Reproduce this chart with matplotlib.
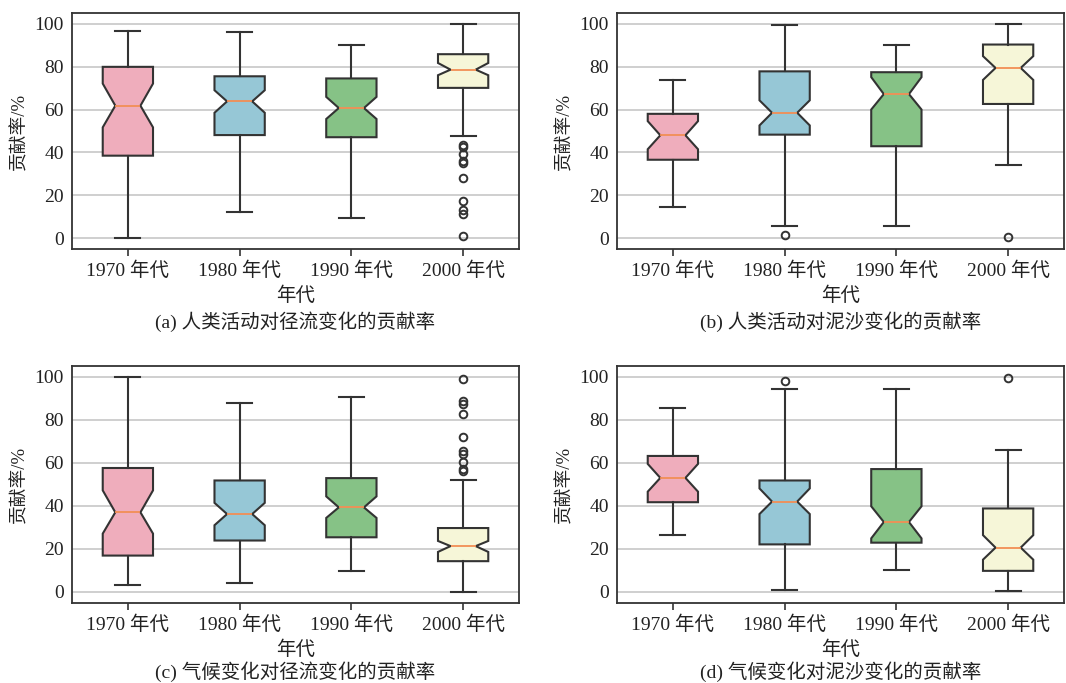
import matplotlib
matplotlib.use("Agg")
import matplotlib.pyplot as plt

plt.rcParams['font.family'] = ['Liberation Serif', 'Noto Sans CJK SC']
plt.rcParams['axes.unicode_minus'] = False

decades = ["1970 年代", "1980 年代", "1990 年代", "2000 年代"]
colors = ["#EFADBC", "#96C7D6", "#86C286", "#F6F6D8"]
captions = ["(a) 人类活动对径流变化的贡献率", "(b) 人类活动对泥沙变化的贡献率",
            "(c) 气候变化对径流变化的贡献率", "(d) 气候变化对泥沙变化的贡献率"]

# each panel: per decade [whislo, q1, cilo, med, cihi, q3, whishi]
a_stats = [[0.0, 38.5, 51.7, 61.8, 72.1, 79.9, 96.6],
           [12.4, 48.1, 58.5, 63.8, 69.0, 75.5, 96.0],
           [9.3, 47.1, 55.6, 60.7, 65.9, 74.5, 90.2],
           [47.8, 70.1, 76.0, 78.6, 81.7, 85.8, 100.0]]
a_fliers = [[], [], [], [43.6, 42.5, 39.5, 36.0, 35.0, 28.1, 17.5, 13.0, 11.5, 1.2]]

b_stats = [[14.5, 36.6, 41.5, 48.0, 54.6, 58.0, 73.7],
           [5.5, 48.3, 52.6, 58.5, 64.3, 77.8, 99.5],
           [5.5, 42.9, 60.0, 67.2, 75.1, 77.4, 90.0],
           [34.2, 62.6, 73.8, 79.4, 84.9, 90.3, 99.8]]
b_fliers = [[], [1.7], [], [0.5]]

c_stats = [[3.4, 16.9, 27.1, 37.0, 47.2, 57.6, 100.0],
           [4.0, 23.9, 31.0, 36.2, 41.4, 51.8, 87.7],
           [9.9, 25.4, 34.4, 39.3, 44.4, 52.9, 90.4],
           [0.0, 14.3, 18.6, 21.3, 23.7, 29.7, 52.1]]
c_fliers = [[], [], [], [98.8, 88.8, 87.2, 82.6, 71.8, 65.6, 64.1, 60.6, 57.2, 56.1]]

d_stats = [[26.4, 41.7, 46.6, 53.0, 59.5, 63.2, 85.3],
           [0.9, 22.1, 36.2, 42.0, 48.1, 51.8, 94.4],
           [10.2, 22.9, 24.9, 32.5, 39.8, 57.1, 94.4],
           [0.3, 9.8, 15.0, 20.6, 26.4, 38.8, 66.0]]
d_fliers = [[], [98.2], [], [99.4]]

panels = [(a_stats, a_fliers), (b_stats, b_fliers), (c_stats, c_fliers), (d_stats, d_fliers)]

fig = plt.figure(figsize=(10.66, 6.83), dpi=100)
W, H = 1066, 683
rects = [(72, 13, 519, 249), (617, 13, 1064, 249), (72, 366, 519, 602.7), (617, 366, 1064, 602.7)]
cap_y = [322, 322, 671.5, 671.5]

edge = "#333333"
for i, ((stats, fliers), (x0, y0, x1, y1)) in enumerate(zip(panels, rects)):
    ax = fig.add_axes([x0 / W, 1 - y1 / H, (x1 - x0) / W, (y1 - y0) / H])
    bx = []
    for s, f, lab in zip(stats, fliers, decades):
        bx.append(dict(whislo=s[0], q1=s[1], cilo=s[2], med=s[3], cihi=s[4],
                       q3=s[5], whishi=s[6], fliers=f, label=lab))
    res = ax.bxp(bx, widths=0.45, patch_artist=True, shownotches=True,
                 boxprops=dict(edgecolor=edge, linewidth=1.5),
                 whiskerprops=dict(color=edge, linewidth=1.5),
                 capprops=dict(color=edge, linewidth=1.5),
                 medianprops=dict(color="#F28E55", linewidth=1.3),
                 flierprops=dict(marker='o', markerfacecolor='none',
                                 markeredgecolor=edge, markersize=5.5,
                                 markeredgewidth=1.4))
    for patch, c in zip(res['boxes'], colors):
        patch.set_facecolor(c)
    ax.set_xlim(0.5, 4.5)
    ax.set_ylim(-5, 105)
    ax.set_yticks([0, 20, 40, 60, 80, 100])
    ax.yaxis.grid(True, color="#CCCCCC", linewidth=1.3)
    ax.set_axisbelow(True)
    for sp in ax.spines.values():
        sp.set_color(edge)
        sp.set_linewidth(1.3)
    ax.tick_params(axis='y', length=0, pad=6, labelsize=14, colors="#222222")
    ax.tick_params(axis='x', length=5, width=1.2, color=edge, pad=4,
                   labelsize=14, labelcolor="#222222")
    ax.set_ylabel("贡献率/%", fontsize=13.5, color="#222222", labelpad=4)
    ax.set_xlabel("年代", fontsize=14, color="#222222", labelpad=5)
    fig.text((x0 + x1) / 2 / W, 1 - cap_y[i] / H, captions[i], ha='center',
             va='center', fontsize=14, color="#222222")

fig.savefig("out.png", dpi=100)
